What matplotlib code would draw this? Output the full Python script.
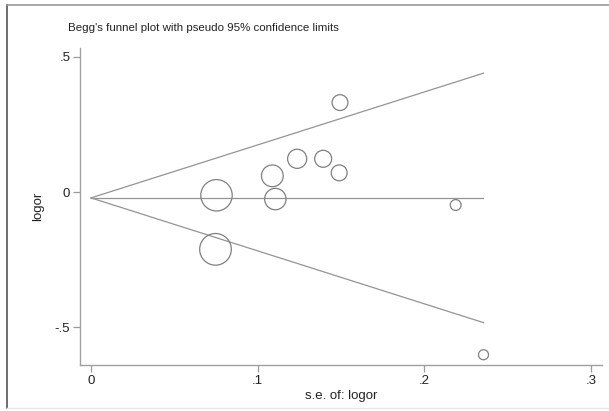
import numpy as np
import matplotlib.pyplot as plt
from matplotlib.lines import Line2D

plt.rcParams['font.family'] = ['Liberation Sans', 'DejaVu Sans']

# study estimates: standard error and log odds ratio
se = [0.0753, 0.0747, 0.1088, 0.1106, 0.1237, 0.1393, 0.1489, 0.1494, 0.2188, 0.2355]
logor = [-0.012, -0.212, 0.060, -0.026, 0.123, 0.123, 0.071, 0.331, -0.048, -0.602]

xticks = [0, 0.1, 0.2, 0.3]
xticklabels = ['0', '.1', '.2', '.3']
yticks = [-0.5, 0, 0.5]
yticklabels = ['-.5', '0', '.5']

se = np.array(se)
logor = np.array(logor)
w = 1 / se**2
pooled = np.sum(w * logor) / np.sum(w)

fig = plt.figure(figsize=(6.09, 4.11), dpi=100)
ax = fig.add_axes([80/609, (411-365)/411, (602-80)/609, (365-48)/411])

# pseudo 95% confidence limits
s = np.array([0, se.max()])
ax.plot(s, [pooled, pooled], color='#949494', lw=0.9)
ax.plot(s, pooled + 1.96*s, color='#949494', lw=0.9)
ax.plot(s, pooled - 1.96*s, color='#949494', lw=0.9)

# marker area proportional to study weight
ax.scatter(se, logor, s=w * 2.9, facecolors='none', edgecolors='#808080', linewidths=0.9, zorder=3)

ax.set_xlim(-0.0066, 0.3066)
ax.set_ylim(-0.640, 0.533)
ax.set_xticks(xticks)
ax.set_xticklabels(xticklabels)
ax.set_yticks(yticks)
ax.set_yticklabels(yticklabels)
ax.tick_params(colors='#9a9a9a', labelcolor='#222222', labelsize=9.5, length=5, width=0.9, pad=2)
for side in ['top', 'right']:
    ax.spines[side].set_visible(False)
for side in ['left', 'bottom']:
    ax.spines[side].set_color('#a0a0a0')
    ax.spines[side].set_linewidth(1.0)

ax.set_xlabel('s.e. of: logor', fontsize=9.5, color='#222222', labelpad=2)
ax.set_ylabel('logor', fontsize=9.5, color='#222222', labelpad=8)
fig.text(68/609, 1 - 28/411, "Begg's funnel plot with pseudo 95% confidence limits",
         fontsize=8.25, color='#222222', va='center', ha='left')

# outer frame
fig.add_artist(Line2D([7/609, 7/609], [1 - 5/411, 3/411], transform=fig.transFigure, color='#555555', lw=1.2))
fig.add_artist(Line2D([7/609, 1], [1 - 5/411, 1 - 5/411], transform=fig.transFigure, color='#999999', lw=1.2))
fig.add_artist(Line2D([7/609, 1], [3/411, 3/411], transform=fig.transFigure, color='#e6e6e6', lw=1.0))

fig.savefig('out.png', dpi=100)
